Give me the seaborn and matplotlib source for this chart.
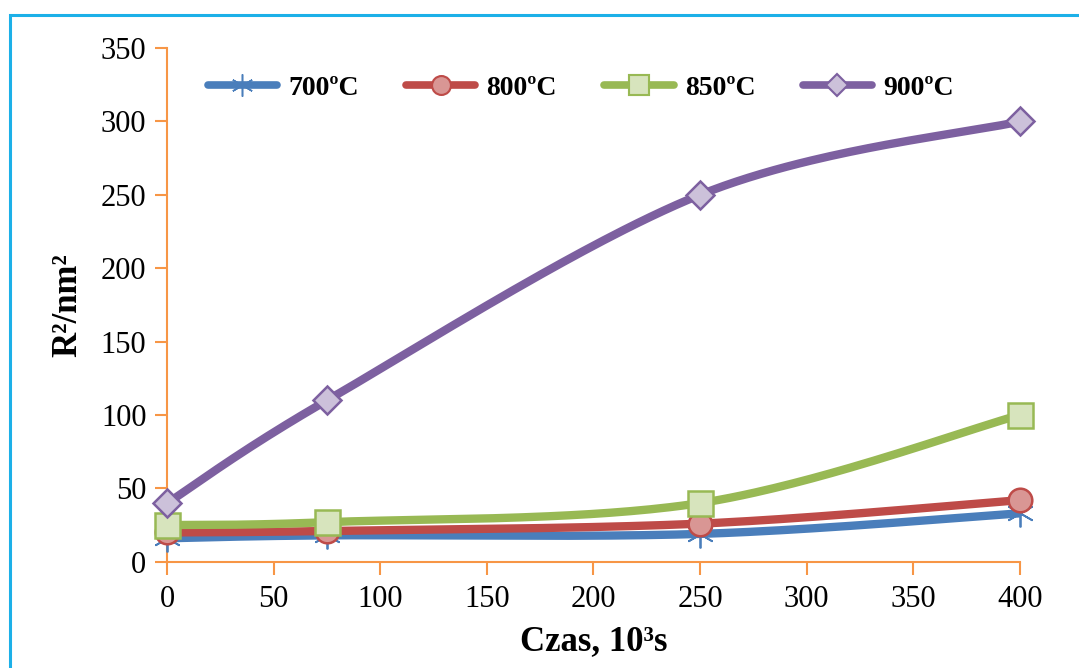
import numpy as np
import pandas as pd
import seaborn as sns
import matplotlib
matplotlib.use("Agg")
import matplotlib.pyplot as plt
from matplotlib.lines import Line2D
from matplotlib.patches import Rectangle

# ---- data ----
time_x = [0, 75, 250, 400]
temps = ["700ºC", "800ºC", "850ºC", "900ºC"]
r2_700 = [16, 18, 19, 33]
r2_800 = [20, 21, 26, 42]
r2_850 = [25, 27, 40, 100]
r2_900 = [40, 110, 250, 300]
x_ticks = [0, 50, 100, 150, 200, 250, 300, 350, 400]
y_ticks = [0, 50, 100, 150, 200, 250, 300, 350]

series = [r2_700, r2_800, r2_850, r2_900]
line_colors = ["#4A7EBB", "#BE4B48", "#98B954", "#7D60A0"]
face_colors = ["#4A7EBB", "#D99694", "#D7E4BD", "#CCC1DA"]
markers = [(6, 2, 0), "o", "s", "D"]
msizes = [20, 17, 18, 14]
medgew = [1.3, 1.8, 1.8, 1.8]

sns.set_theme(style="white")
plt.rcParams["font.family"] = ["Liberation Serif", "DejaVu Serif"]
plt.rcParams["text.color"] = "black"
plt.rcParams["axes.labelcolor"] = "black"


def smooth(xs, ys, n=60):
    """Catmull-Rom style smoothing for drawing the curve through the points."""
    xs = np.asarray(xs, float)
    ys = np.asarray(ys, float)
    P = np.column_stack([xs, ys])
    P = np.vstack([P[0], P, P[-1]])
    out = []
    for i in range(1, len(P) - 2):
        p0, p1, p2, p3 = P[i - 1], P[i], P[i + 1], P[i + 2]
        t = np.linspace(0, 1, n)[:, None]
        c = 0.5 * ((2 * p1) + (-p0 + p2) * t + (2 * p0 - 5 * p1 + 4 * p2 - p3) * t ** 2
                   + (-p0 + 3 * p1 - 3 * p2 + p3) * t ** 3)
        out.append(c if i == 1 else c[1:])
    c = np.vstack(out)
    return c[:, 0], c[:, 1]


fig = plt.figure(figsize=(10.79, 6.68), dpi=100)
ax = fig.add_axes([0.155, 0.159, 0.790, 0.769])

for k, (name, ys) in enumerate(zip(temps, series)):
    sx, sy = smooth(time_x, ys)
    dfl = pd.DataFrame({"x": sx, "y": sy})
    sns.lineplot(data=dfl, x="x", y="y", ax=ax, color=line_colors[k], lw=6,
                 sort=False, estimator=None, legend=False, zorder=3 + k,
                 solid_capstyle="butt")
    ax.plot(time_x, ys, linestyle="none", marker=markers[k], markersize=msizes[k],
            markerfacecolor=face_colors[k], markeredgecolor=line_colors[k],
            markeredgewidth=medgew[k], zorder=3.5 + k, clip_on=False)

ax.set_xlim(0, 400)
ax.set_ylim(0, 350)
ax.set_xticks(x_ticks)
ax.set_yticks(y_ticks)
ax.tick_params(axis="both", labelsize=22, colors="#F79646", labelcolor="black",
               direction="out", length=9, width=1.5, pad=6,
               bottom=True, left=True)
ax.tick_params(axis="x", pad=8)
for s in ["top", "right"]:
    ax.spines[s].set_visible(False)
for s in ["left", "bottom"]:
    ax.spines[s].set_color("#F79646")
    ax.spines[s].set_linewidth(1.5)
ax.grid(False)

ax.set_xlabel("Czas, 10³s", fontsize=25, fontweight="bold", labelpad=8, color="black")
ax.set_ylabel("R²/nm²", fontsize=25, fontweight="bold", labelpad=12, color="black")

handles = [Line2D([0], [0], color=line_colors[k], lw=5.5, marker=markers[k],
                  markersize=msizes[k] * 0.8, markerfacecolor=face_colors[k],
                  markeredgecolor=line_colors[k], markeredgewidth=medgew[k] * 0.85)
           for k in range(4)]
leg = ax.legend(handles, temps, ncol=4, loc="upper center", bbox_to_anchor=(0.485, 0.995),
                frameon=False, prop={"size": 20, "weight": "bold"},
                handlelength=2.5, columnspacing=1.7, handletextpad=0.4)
for t in leg.get_texts():
    t.set_color("black")

fig.add_artist(Rectangle((10 / 1079, -0.1), 1.2, 1.1 - 15 / 668,
                         transform=fig.transFigure, fill=False,
                         edgecolor="#1CB0E8", lw=2.2))

fig.savefig("out.png", dpi=100)
